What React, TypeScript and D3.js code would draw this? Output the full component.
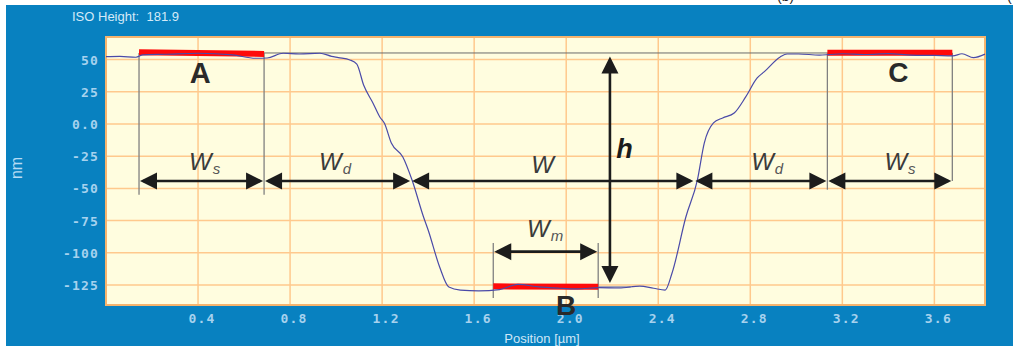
import * as d3 from 'd3';
import { useEffect, useRef } from 'react';

// profile trace (position in µm, height in nm)
const profileX = [0.0, 0.06, 0.13, 0.16, 0.26, 0.40, 0.55, 0.65, 0.70, 0.77, 0.84, 0.93, 0.98, 1.01, 1.06, 1.09, 1.12, 1.16, 1.19, 1.21, 1.24, 1.29, 1.33, 1.38, 1.40, 1.45, 1.49, 1.54, 1.62, 1.71, 1.79, 1.88, 1.97, 2.05, 2.14, 2.23, 2.32, 2.38, 2.43, 2.46, 2.52, 2.57, 2.60, 2.64, 2.68, 2.73, 2.78, 2.83, 2.86, 2.93, 2.96, 3.01, 3.10, 3.14, 3.20, 3.30, 3.40, 3.50, 3.60, 3.68, 3.72, 3.77, 3.82];
const profileY = [52.3, 52.5, 51.8, 53.6, 54.1, 54.9, 53.6, 51.0, 51.2, 54.9, 54.3, 54.9, 52.5, 51.5, 49.7, 46.5, 30.0, 16.3, 5.4, 0.5, -14.8, -25.6, -43.5, -72.2, -82.3, -111, -126.6, -128.9, -129.5, -128.5, -124.5, -126.5, -127.5, -128, -127, -127.3, -125.8, -127.5, -128.9, -115.7, -72.2, -43.5, -14.8, 0.8, 4.7, 8.5, 21.0, 35.7, 40.4, 52.0, 54.3, 54.3, 53.5, 53.8, 54.5, 53.9, 54.6, 53.5, 53.2, 52.8, 54.5, 51.5, 54.2];

const xTicks = [0.4, 0.8, 1.2, 1.6, 2.0, 2.4, 2.8, 3.2, 3.6];
const xTickLabels = ['0.4', '0.8', '1.2', '1.6', '2.0', '2.4', '2.8', '3.2', '3.6'];
const yTicks = [50, 25, 0, -25, -50, -75, -100, -125];
const yTickLabels = ['50', '25', '0.0', '-25', '-50', '-75', '-100', '-125'];

// regions A, B, C : [x0, x1, y0, y1]
const regionNames = ['A', 'B', 'C'];
const regionX0 = [0.1435, 1.683, 3.135];
const regionX1 = [0.687, 2.139, 3.678];
const regionY0 = [55.6, -126.0, 55.3];
const regionY1 = [54.4, -126.4, 55.3];

// width arrows along the line at -44 nm
const widthBreaks = [0.1435, 0.687, 1.326, 2.557, 3.135, 3.678];
const widthSubs = ['s', 'd', '', 'd', 's'];
const widthLabelX = [0.361, 0.926, 1.848, 2.804, 3.383];

export default function App() {
  const ref = useRef<SVGSVGElement>(null);

  useEffect(() => {
    const svg = d3.select(ref.current);
    svg.selectAll('*').remove();

    const W = 1013, H = 350;
    const plot = { left: 106, right: 985, top: 37, bottom: 305 };
    const x = d3.scaleLinear().domain([0, 3.82]).range([plot.left, plot.right]);
    const y = d3.scaleLinear().domain([-140.5, 67.5]).range([plot.bottom, plot.top]);
    const sans = '"Liberation Sans", Arial, Helvetica, sans-serif';
    const mono = '"DejaVu Sans Mono", monospace';

    svg.append('rect').attr('width', W).attr('height', H).attr('fill', '#fff');
    // cut-off labels of neighbouring panels
    svg.append('text').attr('x', 777).attr('y', 1).attr('font-family', sans).attr('font-size', 14).attr('fill', '#222').text('(b)');
    svg.append('text').attr('x', 1007).attr('y', 1).attr('font-family', sans).attr('font-size', 14).attr('fill', '#222').text('(c');
    svg.append('rect').attr('x', 6).attr('y', 5).attr('width', W - 6).attr('height', 341).attr('fill', '#0881c0');

    svg.append('text').attr('x', 72).attr('y', 21).attr('font-family', sans).attr('font-size', 13)
      .attr('fill', '#d4eaf8').style('white-space', 'pre').text('ISO Height:  181.9');

    // plot background + grid
    svg.append('rect').attr('x', plot.left).attr('y', plot.top)
      .attr('width', plot.right - plot.left).attr('height', plot.bottom - plot.top)
      .attr('fill', '#fffddf');

    const g = svg.append('g');
    g.selectAll('line.gx').data(xTicks).enter().append('line')
      .attr('x1', d => x(d)).attr('x2', d => x(d)).attr('y1', plot.top).attr('y2', plot.bottom)
      .attr('stroke', '#ffc98d').attr('stroke-width', 1.5);
    g.selectAll('line.gy').data(yTicks).enter().append('line')
      .attr('x1', plot.left).attr('x2', plot.right).attr('y1', d => y(d)).attr('y2', d => y(d))
      .attr('stroke', '#ffc98d').attr('stroke-width', 1.5);

    svg.append('rect').attr('x', plot.left).attr('y', plot.top)
      .attr('width', plot.right - plot.left).attr('height', plot.bottom - plot.top)
      .attr('fill', 'none').attr('stroke', '#f6b46e').attr('stroke-width', 2);

    // tick labels
    svg.selectAll('text.xt').data(xTicks).enter().append('text')
      .attr('x', d => x(d) + 4).attr('y', 323).attr('text-anchor', 'middle')
      .attr('font-family', mono).attr('font-size', 13).attr('letter-spacing', 1.2)
      .attr('font-weight', 'bold').attr('fill', '#a6d2ee')
      .text((d, i) => xTickLabels[i]);
    svg.selectAll('text.yt').data(yTicks).enter().append('text')
      .attr('x', 99).attr('y', d => y(d) + 5).attr('text-anchor', 'end')
      .attr('font-family', mono).attr('font-size', 13).attr('letter-spacing', 1.2)
      .attr('font-weight', 'bold').attr('fill', '#a6d2ee')
      .text((d, i) => yTickLabels[i]);

    svg.append('text').attr('x', 542).attr('y', 343).attr('text-anchor', 'middle')
      .attr('font-family', sans).attr('font-size', 13).attr('fill', '#cfe7f7').text('Position [µm]');
    svg.append('text').attr('transform', 'translate(22,168) rotate(-90)').attr('text-anchor', 'middle')
      .attr('font-family', sans).attr('font-size', 16).attr('fill', '#b8dcf4').text('nm');

    // reference lines
    svg.append('line').attr('x1', x(0.1435)).attr('x2', x(3.678)).attr('y1', y(55.1)).attr('y2', y(55.1))
      .attr('stroke', '#6a6a6a').attr('stroke-width', 1);
    svg.append('line').attr('x1', x(2.139)).attr('x2', x(2.28)).attr('y1', y(-126.5)).attr('y2', y(-126.5))
      .attr('stroke', '#a8a8b8').attr('stroke-width', 2);

    // dividers
    const dividers = [
      [0.1435, 55, -55], [0.687, 55, -55], [3.135, 55, -51], [3.678, 55, -44.3],
      [1.683, -92.4, -135], [2.139, -92.4, -135],
    ];
    svg.selectAll('line.dv').data(dividers).enter().append('line')
      .attr('x1', d => x(d[0])).attr('x2', d => x(d[0])).attr('y1', d => y(d[1])).attr('y2', d => y(d[2]))
      .attr('stroke', '#808080').attr('stroke-width', 1.3);

    // red regions
    svg.selectAll('line.rg').data(regionNames).enter().append('line')
      .attr('x1', (d, i) => x(regionX0[i])).attr('x2', (d, i) => x(regionX1[i]))
      .attr('y1', (d, i) => y(regionY0[i])).attr('y2', (d, i) => y(regionY1[i]))
      .attr('stroke', '#ff0a0a').attr('stroke-width', 6);

    // profile
    const pts = profileX.map((v, i) => [v, profileY[i]] as [number, number]);
    const line = d3.line<[number, number]>().x(d => x(d[0])).y(d => y(d[1])).curve(d3.curveMonotoneX);
    svg.append('path').datum(pts).attr('d', line).attr('fill', 'none')
      .attr('stroke', '#4a4aa8').attr('stroke-width', 1.2);

    // arrows
    const ink = '#1c1c1c';
    const head = (px: number, py: number, dir: string) => {
      const L = 17, hw = 8.5;
      let p = '';
      if (dir === 'left') p = `${px},${py} ${px + L},${py - hw} ${px + L},${py + hw}`;
      if (dir === 'right') p = `${px},${py} ${px - L},${py - hw} ${px - L},${py + hw}`;
      if (dir === 'up') p = `${px},${py} ${px - hw},${py + L} ${px + hw},${py + L}`;
      if (dir === 'down') p = `${px},${py} ${px - hw},${py - L} ${px + hw},${py - L}`;
      svg.append('polygon').attr('points', p).attr('fill', ink);
    };
    const hArrow = (a: number, b: number, v: number) => {
      const py = y(v);
      svg.append('line').attr('x1', x(a) + 4).attr('x2', x(b) - 4).attr('y1', py).attr('y2', py)
        .attr('stroke', ink).attr('stroke-width', 2.6);
      head(x(a) + 1, py, 'left');
      head(x(b) - 1, py, 'right');
    };
    for (let i = 0; i < widthBreaks.length - 1; i++) hArrow(widthBreaks[i], widthBreaks[i + 1], -44.3);
    hArrow(1.683, 2.139, -99.1);

    const hx = x(2.19);
    svg.append('line').attr('x1', hx).attr('x2', hx).attr('y1', y(52.3) + 4).attr('y2', y(-123.4) - 4)
      .attr('stroke', ink).attr('stroke-width', 2.6);
    head(hx, y(52.3), 'up');
    head(hx, y(-123.4), 'down');

    // W labels
    const wLabel = (px: number, baseline: number, sub: string) => {
      const t = svg.append('text').attr('x', px).attr('y', baseline)
        .attr('font-family', sans).attr('font-style', 'italic').attr('font-size', 24).attr('fill', '#3b3b3b');
      t.append('tspan').text('W');
      if (sub) t.append('tspan').attr('dx', 1).attr('dy', 4).attr('font-size', 15).attr('fill', '#555').text(sub);
    };
    widthLabelX.forEach((v, i) => wLabel(x(v), y(i === 2 ? -38 : -35.7), widthSubs[i]));
    wLabel(x(1.83), y(-87.7), 'm');

    svg.append('text').attr('x', x(2.217)).attr('y', y(-26.4))
      .attr('font-family', sans).attr('font-style', 'italic').attr('font-weight', 'bold')
      .attr('font-size', 27).attr('fill', ink).text('h');

    // region letters
    const letterPos = [[0.41, 31.8, 29], [2.0, -148.3, 28], [3.443, 32.6, 28]];
    svg.selectAll('text.rl').data(regionNames).enter().append('text')
      .attr('x', (d, i) => x(letterPos[i][0])).attr('y', (d, i) => y(letterPos[i][1]))
      .attr('text-anchor', 'middle').attr('font-family', sans).attr('font-weight', 'bold')
      .attr('font-size', (d, i) => letterPos[i][2]).attr('fill', '#2a2a2a')
      .text(d => d);
  }, []);

  return <svg ref={ref} width={1013} height={350} style={{ position: 'absolute', left: 0, top: 0 }} />;
}
